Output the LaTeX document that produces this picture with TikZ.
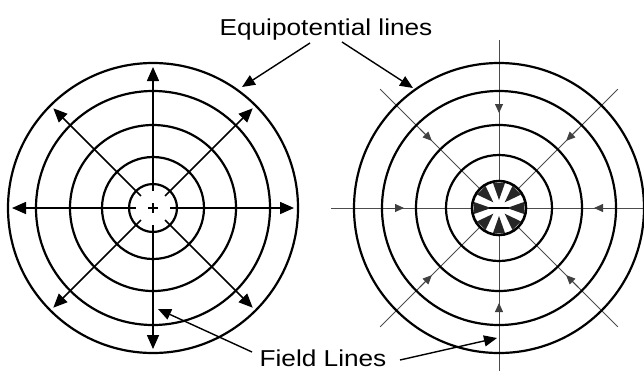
\documentclass[tikz,border=0pt]{standalone}
\usepackage{fontspec}
\setmainfont{Liberation Sans}
\usetikzlibrary{arrows.meta}
\begin{document}
\begin{tikzpicture}[x=1pt,y=-1pt,
  eqline/.style={line width=2.2pt},
  fieldout/.style={line width=1.6pt,-{Triangle[length=14pt,width=12pt]}},
  fieldin/.style={line width=0.8pt,black!70},
  fieldinhead/.style={line width=0.8pt,black!75,-{Triangle[length=9pt,width=8pt]}},
  pointer/.style={line width=1.4pt,-{Triangle[length=13pt,width=11pt]}},
  lbl/.style={font=\fontsize{23}{26}\selectfont,inner sep=0pt}]
\useasboundingbox (0,0) rectangle (644,370);
\coordinate (L) at (153,208);
\coordinate (R) at (499,208);
% left: positive charge
\foreach \r in {24,51,83,117,145} \draw[eqline] (L) circle[radius=\r];
\foreach \a in {0,45,...,315} \draw[fieldout,shift={(L)}] (\a:17) -- (\a:141);
\draw[line width=1.4pt,shift={(L)}] (-5,0) -- (5,0) (0,-5) -- (0,5);
% right: negative charge
\foreach \a in {0,45,...,315} \draw[fieldin,shift={(R)}] (\a:27) -- (\a:168);
\foreach \r in {53,83,117,145} \draw[eqline] (R) circle[radius=\r];
\draw[line width=2.6pt] (R) circle[radius=27];
\foreach \a in {0,45,...,315} \draw[fieldinhead,shift={(R)}] (\a:112) -- (\a:95);
\foreach \a in {0,45,...,315} \fill[black!85,shift={(R)},rotate=\a] (25,-6) -- (25,6) -- (8,0) -- cycle;
\draw[line width=1.4pt,shift={(R)}] (-10,0) -- (10,0);
% labels
\node[lbl,anchor=base] (eq) at (326,35) {\scalebox{1.14}[1]{Equipotential lines}};
\node[lbl,anchor=base] (fl) at (323,366) {\scalebox{1.14}[1]{Field Lines}};
\coordinate (eqA) at (310,43);
\coordinate (eqB) at (342,42);
\coordinate (eqL) at (242,87);
\coordinate (eqR) at (413,88);
\coordinate (flA) at (252,352);
\coordinate (flB) at (400,360);
\coordinate (flL) at (158,309);
\coordinate (flR) at (497,338);
\draw[pointer] (eqA) -- (eqL);
\draw[pointer] (eqB) -- (eqR);
\draw[pointer] (flA) -- (flL);
\draw[pointer] (flB) -- (flR);
\end{tikzpicture}
\end{document}
